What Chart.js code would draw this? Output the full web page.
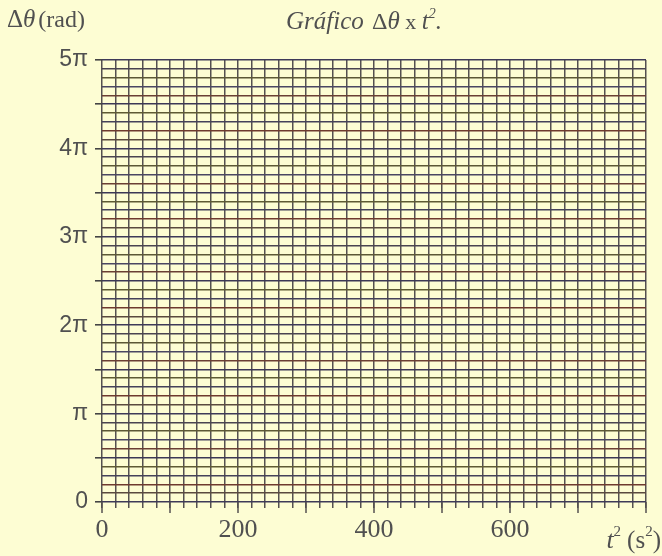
<!DOCTYPE html>
<html>
<head>
<meta charset="utf-8">
<script src="https://cdn.jsdelivr.net/npm/chart.js@4/dist/chart.umd.min.js"></script>
<style>
  html, body { margin: 0; padding: 0; background: #fdfdd3; }
  #wrap { width: 662px; height: 556px; }
</style>
</head>
<body>
<div id="wrap"><canvas id="grafico"></canvas></div>
<script>
// eixo x: t² (s²), rótulos a cada 200, quadriculado a cada 20
const xTickLabels = [0, 200, 400, 600];
const xMax = 800;
const xStep = 20;
// eixo y: Δθ em múltiplos de π, quadriculado a cada π/10
const yTicks = [0, 1, 2, 3, 4, 5];
const yTickLabels = ['0', 'π', '2π', '3π', '4π', '5π'];
const yMax = 5;
const yStep = 0.1;
// folha em branco: nenhum ponto medido ainda
const tSquared = [];
const deltaTheta = [];

// cores das linhas horizontais (efeito do papel escaneado)
const hColors = ['#3e3a58', '#5a4a3e', '#6e3a2e', '#45425a', '#5e5a34', '#3c3856', '#6a3f34', '#4a4662', '#5c5836', '#4a4450'];
const vColor = '#545050';
const textColor = '#505050';

// ticks maiores a cada 100 no eixo x
const ticksLongos = {
  id: 'ticksLongos',
  afterDraw(chart) {
    const x = chart.scales.x;
    const ctx = chart.ctx;
    const bottom = chart.chartArea.bottom;
    ctx.save();
    ctx.strokeStyle = vColor;
    ctx.lineWidth = 1.5;
    x.ticks.forEach(t => {
      if (Math.round(t.value) % 100 === 0) {
        const px = x.getPixelForValue(t.value);
        ctx.beginPath();
        ctx.moveTo(px, bottom);
        ctx.lineTo(px, bottom + 11);
        ctx.stroke();
      }
    });
    ctx.restore();
  }
};

// desenha uma sequência de pedaços de texto (com expoentes)
function drawRuns(ctx, runs, x, y) {
  runs.forEach(r => {
    ctx.font = r.font;
    ctx.fillText(r.text, x, y + (r.dy || 0));
    x += ctx.measureText(r.text).width + (r.gap || 0);
  });
  return x;
}
function runsWidth(ctx, runs) {
  let w = 0;
  runs.forEach(r => { ctx.font = r.font; w += ctx.measureText(r.text).width + (r.gap || 0); });
  return w;
}

// títulos: Δθ (rad), Gráfico Δθ x t². e t² (s²)
const titulos = {
  id: 'titulos',
  afterDraw(chart) {
    const ctx = chart.ctx;
    const serif = '"Liberation Serif", "DejaVu Serif", serif';
    ctx.save();
    ctx.fillStyle = textColor;
    ctx.textBaseline = 'alphabetic';
    ctx.textAlign = 'left';

    drawRuns(ctx, [
      { text: 'Δ', font: '25px ' + serif },
      { text: 'θ', font: 'italic 25px ' + serif, gap: 3 },
      { text: '(rad)', font: '24px ' + serif }
    ], 7, 27);

    const titulo = [
      { text: 'Gráfico ', font: 'italic 25px ' + serif, gap: 2 },
      { text: 'Δ', font: '24px ' + serif },
      { text: 'θ', font: 'italic 25px ' + serif },
      { text: ' x ', font: '22px ' + serif },
      { text: 't', font: 'italic 25px ' + serif },
      { text: '2', font: 'italic 14px ' + serif, dy: -11 },
      { text: '.', font: 'italic 25px ' + serif }
    ];
    const cx = 364;
    drawRuns(ctx, titulo, cx - runsWidth(ctx, titulo) / 2, 29);

    const eixoX = [
      { text: 't', font: 'italic 26px ' + serif },
      { text: '2', font: '15px ' + serif, dy: -12, gap: 6 },
      { text: '(s', font: '25px ' + serif },
      { text: '2', font: '15px ' + serif, dy: -12 },
      { text: ')', font: '25px ' + serif }
    ];
    drawRuns(ctx, eixoX, 661 - runsWidth(ctx, eixoX), 548);
    ctx.restore();
  }
};

const ctx = document.getElementById('grafico').getContext('2d');
const chart = new Chart(ctx, {
  type: 'scatter',
  data: {
    datasets: [{
      label: 'Δθ x t²',
      data: tSquared.map((t, i) => ({ x: t, y: deltaTheta[i] })),
      borderColor: '#222',
      backgroundColor: '#222'
    }]
  },
  options: {
    responsive: true,
    maintainAspectRatio: false,
    animation: false,
    layout: { padding: { top: 60, right: 16, left: 0, bottom: 0 } },
    plugins: {
      legend: { display: false },
      tooltip: { enabled: false }
    },
    scales: {
      x: {
        type: 'linear',
        min: 0,
        max: xMax,
        afterFit(scale) { scale.height = 54; },
        border: { display: false },
        grid: {
          color: vColor,
          lineWidth: 1.5,
          tickLength: 6,
          tickColor: vColor
        },
        ticks: {
          stepSize: xStep,
          autoSkip: false,
          maxRotation: 0,
          padding: 7,
          color: textColor,
          font: { family: '"Liberation Serif", "DejaVu Serif", serif', size: 26 },
          callback: v => xTickLabels.includes(Math.round(v)) ? String(Math.round(v)) : ''
        }
      },
      y: {
        type: 'linear',
        min: 0,
        max: yMax,
        afterFit(scale) { scale.width = 102; },
        border: { display: false },
        grid: {
          color: c => hColors[c.index % hColors.length],
          lineWidth: 1.6,
          tickLength: 7,
          // só os múltiplos de π/2 têm traço fora do quadriculado
          tickColor: c => (Math.round(c.tick.value * 10) % 5 === 0) ? '#444' : 'rgba(0,0,0,0)'
        },
        ticks: {
          stepSize: yStep,
          autoSkip: false,
          padding: 7,
          color: textColor,
          font: { family: '"Liberation Sans", Arial, sans-serif', size: 23 },
          callback: v => {
            const i = yTicks.indexOf(Math.round(v * 10) / 10);
            return i >= 0 ? yTickLabels[i] : '';
          }
        }
      }
    }
  },
  plugins: [ticksLongos, titulos]
});
</script>
</body>
</html>
